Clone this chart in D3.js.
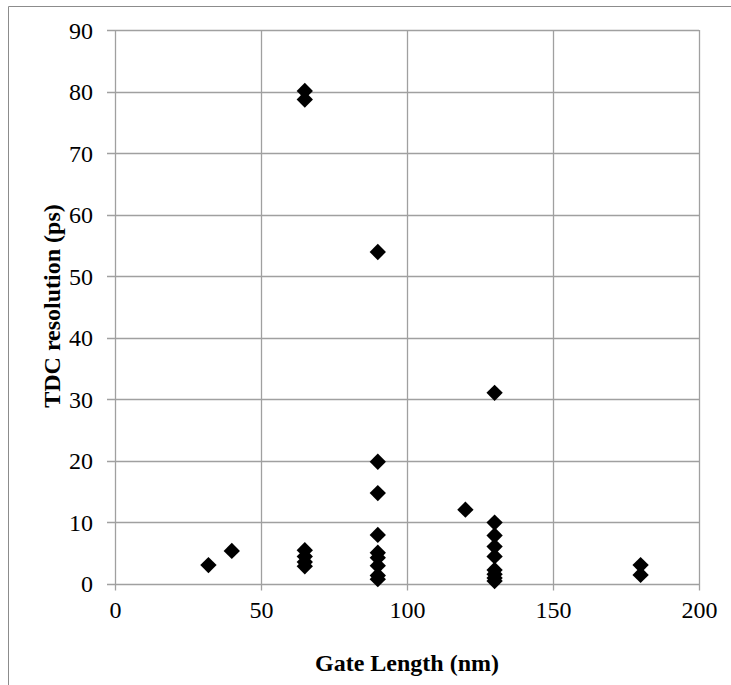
<!DOCTYPE html>
<html>
<head>
<meta charset="utf-8">
<script src="https://d3js.org/d3.v7.min.js"></script>
<style>
  body { margin: 0; background: #fff; }
</style>
</head>
<body>
<svg width="731" height="685"></svg>
<script>
// gate length (nm) and TDC resolution (ps)
var gateLength = [32, 40,
  65, 65, 65, 65, 65, 65,
  90, 90, 90, 90, 90, 90, 90, 90, 90,
  120,
  130, 130, 130, 130, 130, 130, 130, 130, 130,
  180, 180];
var resolution = [3.0, 5.3,
  80.1, 78.7, 5.4, 4.4, 3.5, 2.8,
  53.9, 19.8, 14.7, 7.9, 5.0, 4.2, 2.9, 1.3, 0.7,
  12.0,
  31.0, 9.9, 7.8, 6.0, 4.4, 2.2, 1.5, 0.9, 0.4,
  3.0, 1.4];
var xTicks = [0, 50, 100, 150, 200];
var yTicks = [0, 10, 20, 30, 40, 50, 60, 70, 80, 90];

var serif = "Liberation Serif";

var svg = d3.select("svg");

// outer frame
svg.append("path")
  .attr("d", "M8.5,685V6.5H731")
  .attr("fill", "none")
  .attr("stroke", "#8c8c8c");

var x = d3.scaleLinear().domain([0, 200]).range([115, 699]);
var y = d3.scaleLinear().domain([0, 90]).range([583.5, 30]);

var grid = svg.append("g").attr("stroke", "#a0a0a0").attr("stroke-width", 1.3);
grid.selectAll(".gx").data(xTicks).enter().append("line")
  .attr("x1", d => Math.round(x(d)) + 0.5).attr("x2", d => Math.round(x(d)) + 0.5)
  .attr("y1", y(90)).attr("y2", y(0) + 7);
grid.selectAll(".gy").data(yTicks).enter().append("line")
  .attr("y1", d => Math.round(y(d)) + 0.5).attr("y2", d => Math.round(y(d)) + 0.5)
  .attr("x1", x(0) - 8).attr("x2", x(200));

var xAxis = svg.append("g")
  .attr("transform", "translate(0," + y(0) + ")")
  .call(d3.axisBottom(x).tickValues(xTicks).tickSize(0).tickPadding(17));
xAxis.select(".domain").remove();

var yAxis = svg.append("g")
  .attr("transform", "translate(" + x(0) + ",0)")
  .call(d3.axisLeft(y).tickValues(yTicks).tickSize(0).tickPadding(22));
yAxis.select(".domain").remove();
yAxis.selectAll("text").attr("dy", "0.34em");

[xAxis, yAxis].forEach(a => a.attr("font-family", serif).attr("font-size", 24));
svg.selectAll(".tick text").attr("fill", "#000");

var pts = gateLength.map((g, i) => ({g: g, r: resolution[i]}));
svg.append("g").selectAll("path").data(pts).enter().append("path")
  .attr("d", d3.symbol(d3.symbolDiamond2, 170))
  .attr("transform", d => "translate(" + x(d.g) + "," + y(d.r) + ")")
  .attr("fill", "#000");

svg.append("text")
  .attr("x", (x(0) + x(200)) / 2).attr("y", 671)
  .attr("text-anchor", "middle")
  .attr("font-family", serif).attr("font-size", 24).attr("font-weight", "bold")
  .text("Gate Length  (nm)");

svg.append("text")
  .attr("transform", "translate(60," + 306 + ") rotate(-90)")
  .attr("text-anchor", "middle")
  .attr("font-family", serif).attr("font-size", 24).attr("font-weight", "bold")
  .text("TDC resolution  (ps)");
</script>
</body>
</html>
